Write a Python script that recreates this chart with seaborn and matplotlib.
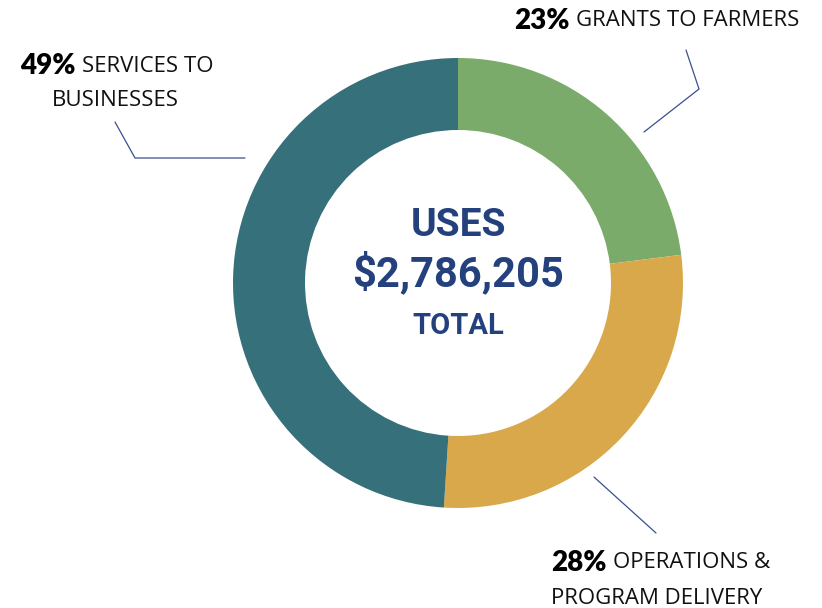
import matplotlib
matplotlib.use("Agg")
import matplotlib.pyplot as plt
import seaborn as sns

# uses breakdown
categories = ["GRANTS TO FARMERS", "OPERATIONS &\nPROGRAM DELIVERY", "SERVICES TO\nBUSINESSES"]
shares = [23, 28, 49]
colors = ["#7aab6a", "#d9a84b", "#36707a"]
total_label = "$2,786,205"

sns.set_theme(style="white")
plt.rcParams['font.family'] = ['Open Sans', 'DejaVu Sans']

fig = plt.figure(figsize=(8.22, 6.08), dpi=100)
ax = fig.add_axes([0, 0, 1, 1])

cx, cy, r = 458, 608 - 283, 225
ax.pie(shares, colors=colors, startangle=90, counterclock=False,
       center=(cx, cy), radius=r, frame=True,
       wedgeprops=dict(width=r * 0.32, linewidth=0))
ax.set_xlim(0, 822)
ax.set_ylim(0, 608)
ax.set_aspect('equal')
ax.axis('off')

navy = "#24417e"
center_font = ['Roboto', 'DejaVu Sans']
ax.text(cx, 608 - 226, "USES", ha='center', va='center', fontsize=28,
        fontweight='bold', color=navy, family=center_font)
ax.text(cx, 608 - 273, total_label, ha='center', va='center', fontsize=30,
        fontweight='bold', color=navy, family=center_font)
ax.text(cx, 608 - 326, "TOTAL", ha='center', va='center', fontsize=21,
        fontweight='bold', color=navy, family=center_font)

line_kw = dict(color="#3b4f8f", lw=0.9)
# leader lines (pixel coords, y flipped)
ax.plot([115, 135, 245], [608 - 122, 608 - 158, 608 - 158], **line_kw)
ax.plot([686, 699, 644], [608 - 50, 608 - 89, 608 - 132], **line_kw)
ax.plot([594, 656], [608 - 477, 608 - 533], **line_kw)

pct_kw = dict(fontsize=20, fontweight='heavy', color='black', family=['Lato', 'DejaVu Sans'],
              va='center', ha='left')
lab_kw = dict(fontsize=16, color='#111111', family=['Open Sans', 'DejaVu Sans'],
              va='center', ha='left')

def label(x, y, pct, lines, indent):
    t = ax.text(x, 608 - y, f"{pct}%", **pct_kw)
    fig.canvas.draw()
    bb = t.get_window_extent()
    parts = lines.split("\n")
    ax.text(bb.x1 + 6, 608 - y, parts[0], **lab_kw)
    if len(parts) > 1:
        ax.text(x + indent, 608 - y - 35, parts[1], **lab_kw)

label(20, 66, shares[2], categories[2], 32)
label(514, 21, shares[0], categories[0], 0)
label(551, 563, shares[1], categories[1], 0)

fig.savefig("out.png", dpi=100)
